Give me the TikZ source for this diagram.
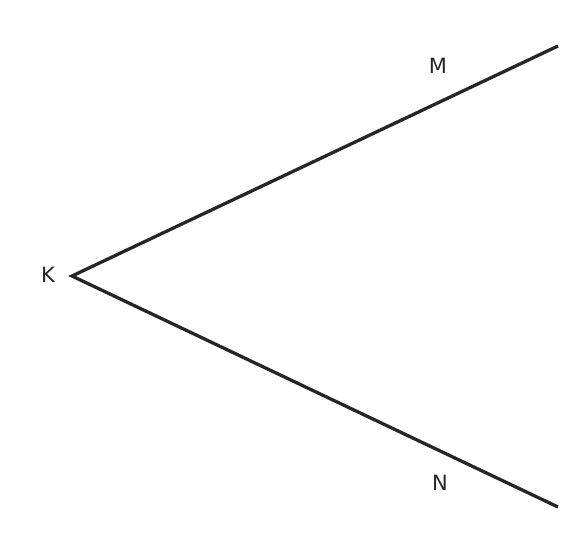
\documentclass[tikz,border=0pt]{standalone}
\usepackage{fontspec}
\setmainfont{DejaVu Sans}
\usetikzlibrary{positioning}
\definecolor{ink}{HTML}{262626}

\begin{document}
\begin{tikzpicture}[x=1pt, y=-1pt,
			ray/.style={draw=ink, line width=3.3pt, line join=miter},
			lbl/.style={text=ink, inner sep=0pt, font=\fontsize{21}{24}\selectfont}]
			\useasboundingbox (0,0) rectangle (576,554);
			
			% Vertice e estremi dei lati
			\coordinate (K) at (72,276);
			\coordinate (M) at (558,46);
			\coordinate (N) at (558,507);
			
			% Etichette
			\node[lbl] (lblK) at (48,275) {K};
			\node[lbl] (lblM) at (438,66) {M};
			\node[lbl] (lblN) at (440,483) {N};
			
			% Lati dell'angolo
			\draw[ray] (M) -- (K) -- (N);
		\end{tikzpicture}
\end{document}
